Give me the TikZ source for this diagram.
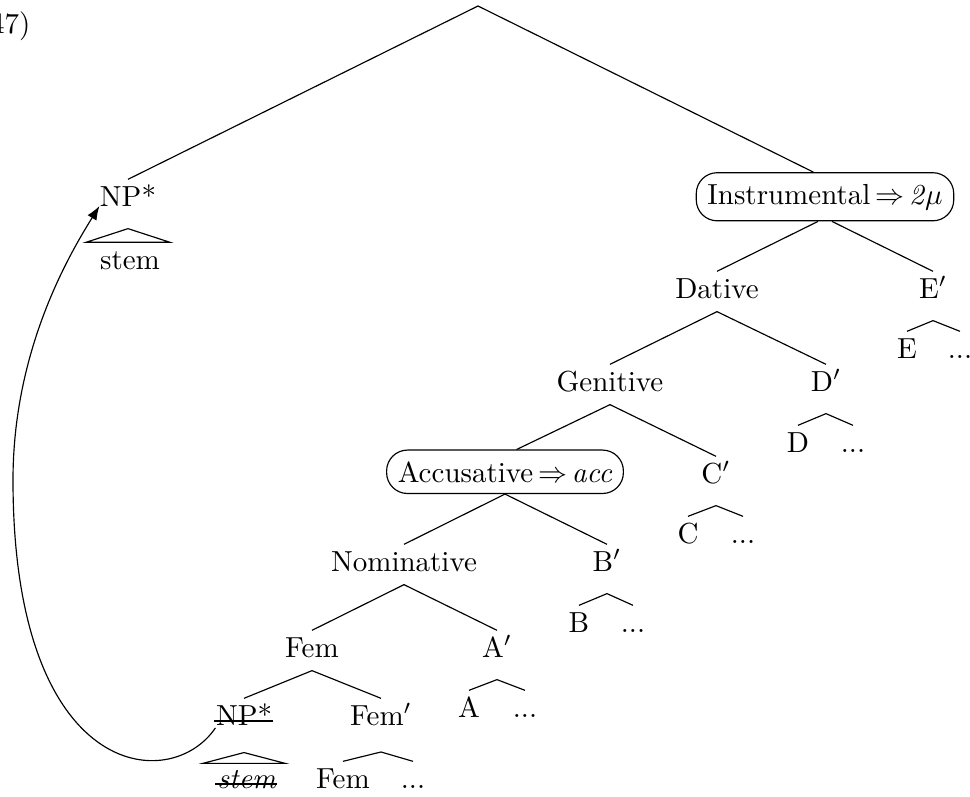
\documentclass[tikz,border=0pt]{standalone}
\usetikzlibrary{arrows.meta,calc}
\tikzset{
  lab/.style={anchor=base, inner xsep=0pt, inner ysep=2pt, text height=7pt, text depth=2.5pt},
  casebox/.style={anchor=base, draw, rounded corners=7.2pt, inner xsep=3.85pt, inner ysep=3.85pt},
  edge/.style={line width=0.4pt},
  strikeline/.style={line width=0.75pt},
  movearrow/.style={line width=0.4pt, -{Latex[length=4.8pt,width=3.6pt]}},
}
\begin{document}
\begin{tikzpicture}[x=0.3448pt,y=-0.3448pt]
\useasboundingbox (0,0) rectangle (970,796);

% example number
\node[anchor=base east, inner sep=0pt] (num) at (31,33) {(47)};

% root
\coordinate (root) at (478,6);

% NP* (moved) and its stem
\node[lab] (np1) at (128,206) {NP*};
\node[lab] (stem1) at (130,269) {stem};

% Instrumental
\node[casebox] (inst) at (825,204) {Instrumental\,$\Rightarrow$\,\textit{2}$\mu$};
\node[lab] (dat) at (717,298) {Dative};
\node[lab] (Ep) at (933,298) {E$'$};
\node[lab] (E) at (907,358) {E};
\node[lab] (Edots) at (960,358) {...};

\node[lab] (gen) at (610,391) {Genitive};
\node[lab] (Dp) at (826,391) {D$'$};
\node[lab] (D) at (798,452) {D};
\node[lab] (Ddots) at (853,452) {...};

\node[casebox] (acc) at (505,482) {Accusative\,$\Rightarrow$\,\textit{acc}};
\node[lab] (Cp) at (716,483) {C$'$};
\node[lab] (C) at (688,543) {C};
\node[lab] (Cdots) at (743,543) {...};

\node[lab] (nom) at (404,571) {Nominative};
\node[lab] (Bp) at (607,571) {B$'$};
\node[lab] (B) at (579,632) {B};
\node[lab] (Bdots) at (633,632) {...};

\node[lab] (fem) at (312,657) {Fem};
\node[lab] (Ap) at (497,657) {A$'$};
\node[lab] (A) at (469,717) {A};
\node[lab] (Adots) at (525,717) {...};

\node[lab] (np2) at (244,725) {NP*};
\node[lab] (femp) at (381,725) {Fem$'$};
\node[lab] (fem2) at (343,788) {Fem};
\node[lab] (femdots) at (413,788) {...};
\node[lab] (stem2) at (247,788) {\textit{stem}};

% strike-throughs
\draw[strikeline] ([yshift=1.3pt,xshift=-0.5pt]np2.base west) -- ([yshift=1.3pt]np2.base east);
\draw[strikeline] ([yshift=1.3pt,xshift=-0.5pt]stem2.base west) -- ([yshift=1.3pt]stem2.base east);

% tree edges
\draw[edge] (np1.north) -- (root) -- ([xshift=-4pt]inst.north);
\draw[edge] ([xshift=-2.4pt]inst.south) -- (dat.north);
\draw[edge] ([xshift=2.4pt]inst.south) -- (Ep.north);
\draw[edge] (dat.south) -- (gen.north);
\draw[edge] (dat.south) -- (Dp.north);
\draw[edge] (gen.south) -- ([xshift=4pt]acc.north);
\draw[edge] (gen.south) -- (Cp.north);
\draw[edge] (acc.south) -- (nom.north);
\draw[edge] (acc.south) -- (Bp.north);
\draw[edge] (nom.south) -- (fem.north);
\draw[edge] (nom.south) -- (Ap.north);
\draw[edge] (fem.south) -- (np2.north);
\draw[edge] (fem.south) -- (femp.north);

% roofs
\draw[edge] (E.north) -- ([yshift=-3.1pt]Ep.south) -- (Edots.north);
\draw[edge] (D.north) -- ([yshift=-3.1pt]Dp.south) -- (Ddots.north);
\draw[edge] (C.north) -- ([yshift=-3.1pt]Cp.south) -- (Cdots.north);
\draw[edge] (B.north) -- ([yshift=-3.1pt]Bp.south) -- (Bdots.north);
\draw[edge] (A.north) -- ([yshift=-3.1pt]Ap.south) -- (Adots.north);
\draw[edge] (fem2.north) -- ([yshift=-4.6pt]femp.south) -- (femdots.north);

% triangles
\draw[edge] ($(np1.south |- stem1.north)+(-42,0)$) -- ([yshift=-3.1pt]np1.south) -- ($(np1.south |- stem1.north)+(42,0)$) -- cycle;
\draw[edge] ($(np2.south |- stem2.north)+(-41,2)$) -- ([yshift=-4.8pt]np2.south) -- ($(np2.south |- stem2.north)+(41,2)$) -- cycle;

% movement arrow
\draw[movearrow] ([yshift=-1pt]np2.base west) .. controls (170,795) and (13,780) .. (13,480)
  .. controls (13,350) and (69,255) .. (np1.base west);
\end{tikzpicture}
\end{document}
